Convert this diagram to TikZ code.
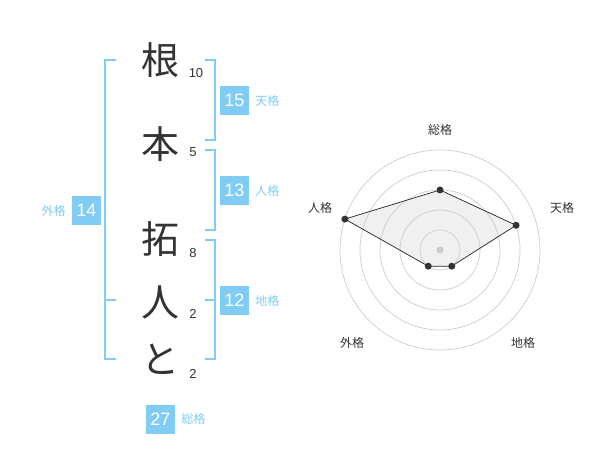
\documentclass[tikz,border=0pt]{standalone}
\usepackage{fontspec}
\setmainfont{Liberation Sans}
\newfontfamily\jp{Noto Sans CJK JP}
\usetikzlibrary{calc, positioning}
\newcommand{\rgb}[3]{rgb,255:red,#1; green,#2; blue,#3}

\begin{document}
\begin{tikzpicture}[x=1pt, y=-1pt,
    kanji/.style={font=\jp\fontsize{38}{38}\selectfont, text=\rgb{51}{51}{51}, inner sep=0pt},
    traits/.style={font=\fontsize{13}{13}\selectfont, text=\rgb{51}{51}{51}, inner sep=0pt},
    boite/.style={fill=\rgb{128}{204}{245}, text=white, minimum size=29pt, inner sep=0pt, font=\fontsize{18}{18}\selectfont},
    etiquette/.style={font=\jp\fontsize{12}{12}\selectfont, text=\rgb{128}{204}{245}, inner sep=0pt},
    crochet/.style={draw=\rgb{128}{204}{245}, line width=2pt},
    cercle/.style={draw=\rgb{204}{204}{204}, line width=0.7pt},
    axe/.style={font=\jp\fontsize{12}{12}\selectfont, text=\rgb{51}{51}{51}, inner sep=0pt},
    point/.style={circle, fill=\rgb{51}{51}{51}, minimum size=7pt, inner sep=0pt}]
    \useasboundingbox (0,0) rectangle (600,470);

    %les caractères du nom
    \node [kanji] (k1) at (160,60) {根};
    \node [kanji] (k2) at (160,144) {本};
    \node [kanji] (k3) at (160,239) {拓};
    \node [kanji] (k4) at (160,302) {人};
    \node [kanji] (k5) at (160,359) {と};

    %nombre de traits
    \node [traits] (t1) at (196,73) {10};
    \node [traits] (t2) at (193,152) {5};
    \node [traits] (t3) at (193,253) {8};
    \node [traits] (t4) at (193,314) {2};
    \node [traits] (t5) at (193,374) {2};

    %crochet de gauche (外格)
    \draw [crochet] (116,60) -- (105,60) -- (105,359) -- (116,359);
    \draw [crochet] (105,300) -- (116,300);
    \node [boite] (bGai) at (86.5,210.5) {14};
    \node [etiquette, left=6pt of bGai] (lGai) {外格};

    %crochets de droite
    \draw [crochet] (205,60) -- (215,60) -- (215,140) -- (205,140);
    \draw [crochet] (205,150) -- (215,150) -- (215,230) -- (205,230);
    \draw [crochet] (205,240) -- (215,240) -- (215,359) -- (205,359);
    \draw [crochet] (205,300) -- (215,300);
    \node [boite] (bTen) at (234.5,100.5) {15};
    \node [etiquette, right=6pt of bTen] (lTen) {天格};
    \node [boite] (bJin) at (234.5,190.5) {13};
    \node [etiquette, right=6pt of bJin] (lJin) {人格};
    \node [boite] (bChi) at (234.5,300.5) {12};
    \node [etiquette, right=6pt of bChi] (lChi) {地格};

    %総格 en bas
    \node [boite] (bSou) at (160.5,419) {27};
    \node [etiquette, right=6pt of bSou] (lSou) {総格};

    %le radar
    \begin{scope}[shift={(440,250)}, yscale=-1]
      \foreach \r in {20,40,60,80,100}
        \draw [cercle] (0,0) circle (\r);
      \coordinate (pSou) at (90:60);
      \coordinate (pTen) at (18:80);
      \coordinate (pChi) at (-54:20);
      \coordinate (pGai) at (-126:20);
      \coordinate (pJin) at (162:100);
      \draw [fill=\rgb{204}{204}{204}, fill opacity=0.3, draw=\rgb{34}{34}{34}, line width=0.7pt]
        (pSou) -- (pTen) -- (pChi) -- (pGai) -- (pJin) -- cycle;
      \node [point, fill=\rgb{204}{204}{204}] (centre) at (0,0) {};
      \foreach \p in {pSou,pTen,pChi,pGai,pJin}
        \node [point] at (\p) {};
    \end{scope}

    %noms des axes
    \node [axe] (aSou) at (440,130) {総格};
    \node [axe] (aTen) at (562,208) {天格};
    \node [axe] (aChi) at (523,343) {地格};
    \node [axe] (aGai) at (352,343) {外格};
    \node [axe] (aJin) at (320,208) {人格};
\end{tikzpicture}
\end{document}
